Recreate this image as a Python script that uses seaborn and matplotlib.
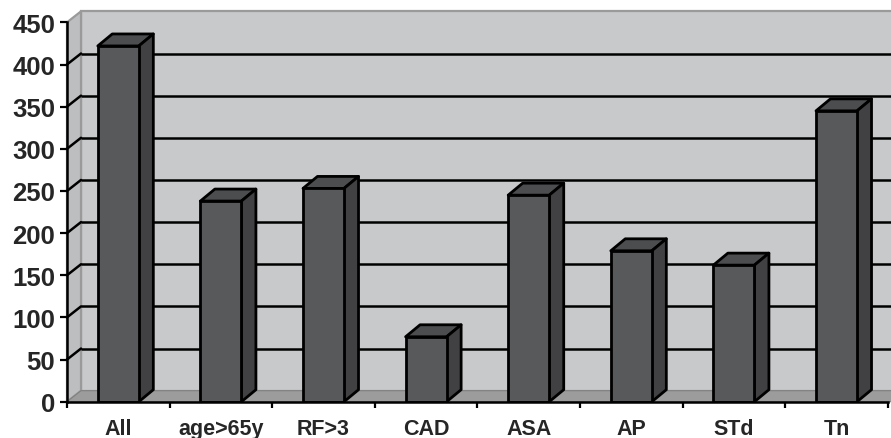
import matplotlib
matplotlib.use("Agg")
import matplotlib.pyplot as plt
from matplotlib.patches import Polygon, Rectangle
import seaborn as sns
import pandas as pd

categories = ["All", "age>65y", "RF>3", "CAD", "ASA", "AP", "STd", "Tn"]
values = [422, 238, 253, 77, 245, 179, 162, 345]
y_ticks = [0, 50, 100, 150, 200, 250, 300, 350, 400, 450]

df = pd.DataFrame({"group": categories, "count": values})

sns.set_theme(style="white")
plt.rcParams["font.family"] = ["Liberation Sans", "DejaVu Sans"]
plt.rcParams["font.weight"] = "bold"

W, H = 891, 439
fig = plt.figure(figsize=(W / 100, H / 100), dpi=100)

# axes placement in pixels
px_cat = 102.6
px_unit = 0.843
x0_px, y0_px = 67, 402.7
xmin, xmax = -0.5, 7.65
ymax = 464
ax = fig.add_axes([x0_px / W, (H - y0_px) / H,
                   (xmax - xmin) * px_cat / W, ymax * px_unit / H])
ax.set_facecolor("none")

# depth offsets for the pseudo-3D look
dx_wall, dy_wall = 14 / px_cat, 11 / px_unit
dx_bar, dy_bar = 14.5 / px_cat, 12 / px_unit

front_c = "#58595b"
top_c = "#4c4d4f"
side_c = "#414143"
wall_c = "#c8c9cb"
side_wall_c = "#bdbec0"
floor_c = "#9c9c9c"
edge_gray = "#9a9a9a"

# back wall
ax.add_patch(Rectangle((xmin + dx_wall, dy_wall), xmax - xmin, 450,
                       facecolor=wall_c, edgecolor=edge_gray, lw=1.6,
                       zorder=0.1, clip_on=False))
# left side wall
ax.add_patch(Polygon([(xmin, 0), (xmin + dx_wall, dy_wall),
                      (xmin + dx_wall, 450 + dy_wall), (xmin, 450)],
                     closed=True, facecolor=side_wall_c, edgecolor=edge_gray,
                     lw=1.6, zorder=0.2, clip_on=False))
# floor
ax.add_patch(Polygon([(xmin, 0), (xmin + dx_wall, dy_wall),
                      (xmax + 1, dy_wall), (xmax + 1, 0)],
                     closed=True, facecolor=floor_c, edgecolor="#808080",
                     lw=0.8, zorder=0.3, clip_on=False))

# gridlines on back and side walls
for v in y_ticks[1:-1]:
    ax.plot([xmin + dx_wall, xmax + 1], [v + dy_wall, v + dy_wall],
            color="black", lw=1.8, zorder=0.5, clip_on=False,
            solid_capstyle="butt")
    ax.plot([xmin, xmin + dx_wall], [v, v + dy_wall],
            color="black", lw=1.8, zorder=0.5, clip_on=False)

sns.barplot(data=df, x="group", y="count", order=categories, width=0.4,
            color=front_c, saturation=1, edgecolor="black", linewidth=2.0,
            ax=ax, zorder=3)

# top and side faces for every bar
for p in list(ax.patches):
    if p.get_zorder() != 3:
        continue
    x, w, h = p.get_x(), p.get_width(), p.get_height()
    top = Polygon([(x, h), (x + dx_bar, h + dy_bar), (x + w + dx_bar, h + dy_bar),
                   (x + w, h)], closed=True, facecolor=top_c, edgecolor="black",
                  lw=2.0, zorder=2.9, joinstyle="round")
    side = Polygon([(x + w, 0), (x + w + dx_bar, dy_bar),
                    (x + w + dx_bar, h + dy_bar), (x + w, h)], closed=True,
                   facecolor=side_c, edgecolor="black", lw=2.0, zorder=2.9,
                   joinstyle="round")
    ax.add_patch(top)
    ax.add_patch(side)

ax.set_xlim(xmin, xmax)
ax.set_ylim(0, ymax)

for s in ["top", "right"]:
    ax.spines[s].set_visible(False)
ax.spines["left"].set_bounds(0, 450)
ax.spines["bottom"].set_bounds(-0.5, 7.5)
for s in ["left", "bottom"]:
    ax.spines[s].set_color("black")
    ax.spines[s].set_linewidth(1.8)
    ax.spines[s].set_zorder(4)

ax.set_yticks(y_ticks)
ax.set_yticklabels([str(v) for v in y_ticks], fontsize=18.5, fontweight="bold")
ax.tick_params(axis="y", direction="out", length=5, width=1.6, pad=3.5,
               color="black", left=True)

ax.set_xticks(range(len(categories)))
ax.set_xticklabels(categories, fontsize=15.5, fontweight="bold")
ax.set_xticks([i - 0.5 for i in range(len(categories) + 1)], minor=True)
ax.tick_params(axis="x", which="major", length=0, pad=12)
ax.tick_params(axis="x", which="minor", direction="out", length=4.5,
               width=1.6, color="black", bottom=True)
ax.set_xlabel("")
ax.set_ylabel("")

fig.savefig("out.png", dpi=100)
